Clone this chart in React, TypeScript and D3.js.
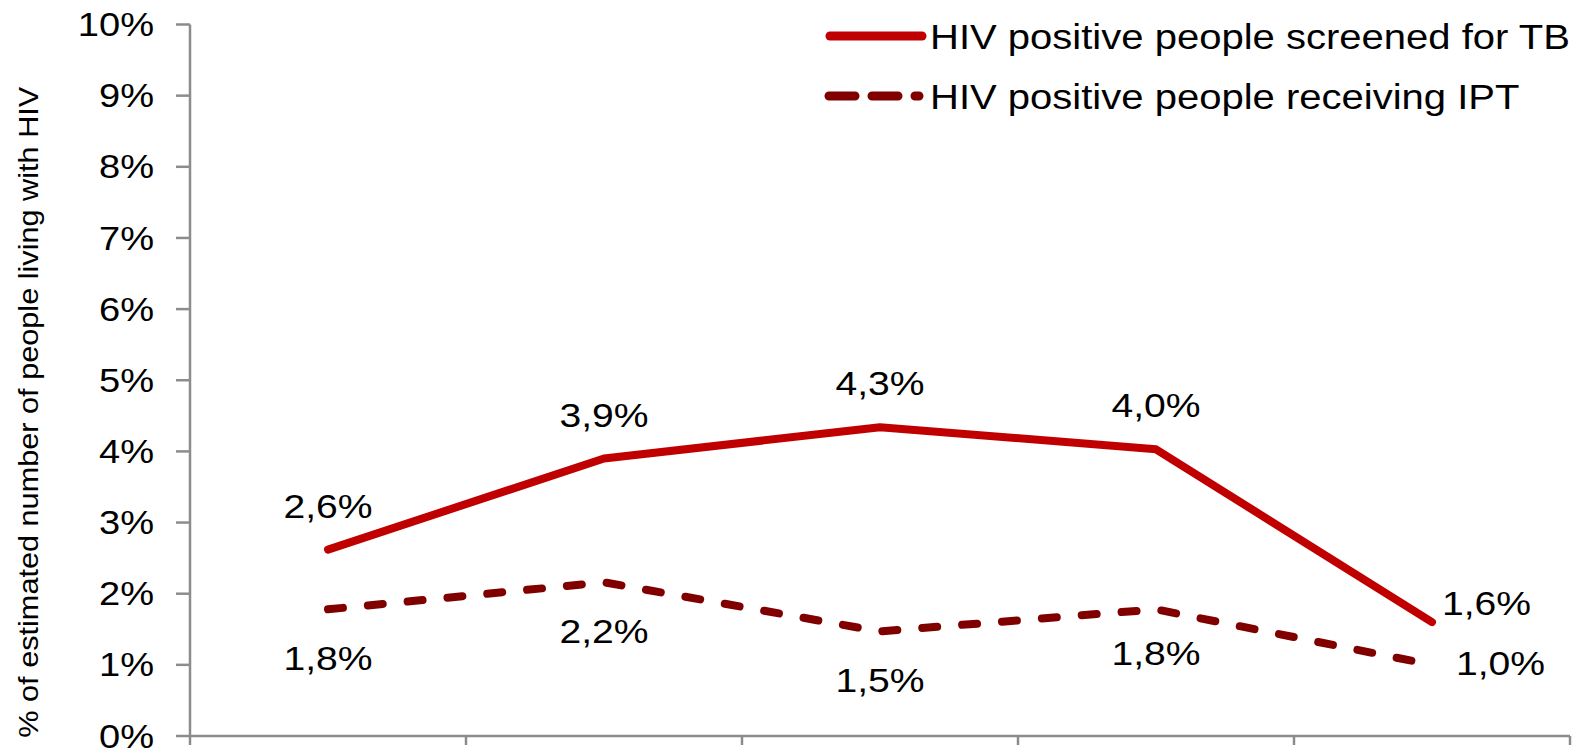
import React from "react";
import * as d3 from "d3";

const categories = ["A", "B", "C", "D", "E"];
const screenedTB = [2.62, 3.9, 4.34, 4.03, 1.6];
const receivingIPT = [1.78, 2.16, 1.47, 1.78, 1.0];
const seriesNames = ["HIV positive people screened for TB", "HIV positive people receiving IPT"];
const yTicks = [0, 1, 2, 3, 4, 5, 6, 7, 8, 9, 10];
const yTitle = "% of estimated number of people living with HIV";

const W = 1572;
const H = 752;
const FONT = "'Liberation Sans', Arial, sans-serif";
const SX = 1.15;

function T({ x, y, anchor = "start", size = 34, sx = SX, dy = "0", children }: any) {
  return (
    <g transform={`translate(${x},${y}) scale(${sx},1)`}>
      <text x={0} y={0} dy={dy} textAnchor={anchor} fontSize={size} fill="#000">
        {children}
      </text>
    </g>
  );
}

export default function App() {
  const x = d3.scaleBand<string>().domain(categories).range([190, 1570]);
  const y = d3.scaleLinear().domain([0, 10]).range([736, 24.5]);
  const cx = (c: string) => (x(c) as number) + x.bandwidth() / 2;
  const line = d3
    .line<number>()
    .x((_, i) => cx(categories[i]))
    .y((d) => y(d));
  const fmt = (v: number) => d3.format(".1f")(v).replace(".", ",") + "%";
  const boundaries = [...categories.map((c) => x(c) as number), 1570];
  const last = categories.length - 1;

  return (
    <svg width={W} height={H} style={{ position: "absolute", left: 0, top: 0, background: "#fff" }} fontFamily={FONT}>
      {/* y axis */}
      <line x1={190} x2={190} y1={y(10)} y2={y(0)} stroke="#8c8c8c" strokeWidth={2.5} />
      {yTicks.map((t) => (
        <g key={t}>
          <line x1={176} x2={190} y1={y(t)} y2={y(t)} stroke="#8c8c8c" strokeWidth={2.5} />
          <T x={154} y={y(t)} dy="0.34em" anchor="end" sx={1.12}>
            {t}%
          </T>
        </g>
      ))}
      {/* x axis */}
      <line x1={190} x2={1570} y1={y(0)} y2={y(0)} stroke="#8c8c8c" strokeWidth={2.5} />
      {boundaries.map((b, i) => (
        <line key={i} x1={b} x2={b} y1={y(0)} y2={y(0) + 9} stroke="#8c8c8c" strokeWidth={2.5} />
      ))}
      {/* y title */}
      <g transform={`translate(38, ${(y(0) + y(10)) / 2 + 32}) rotate(-90) scale(1.095,1)`}>
        <text x={0} y={0} textAnchor="middle" fontSize={28} fill="#000">
          {yTitle}
        </text>
      </g>
      {/* series */}
      <path d={line(screenedTB) || ""} fill="none" stroke="#c00000" strokeWidth={8} strokeLinecap="round" strokeLinejoin="round" />
      <path
        d={line(receivingIPT) || ""}
        fill="none"
        stroke="#800000"
        strokeWidth={8}
        strokeLinecap="round"
        strokeLinejoin="round"
        strokeDasharray="15 25"
      />
      {/* labels */}
      {screenedTB.map((v, i) => (
        <T
          key={"s" + i}
          x={i === last ? cx(categories[i]) + 10 : cx(categories[i])}
          y={i === last ? y(v) - 19 + 12 : y(v) - 44 + 12}
          anchor={i === last ? "start" : "middle"}
        >
          {fmt(v)}
        </T>
      ))}
      {receivingIPT.map((v, i) => (
        <T
          key={"r" + i}
          x={i === last ? cx(categories[i]) + 24 : cx(categories[i])}
          y={i === last ? y(v) - 2 + 12 : y(v) + (i === 3 ? 44 : 49) + 12}
          anchor={i === last ? "start" : "middle"}
        >
          {fmt(v)}
        </T>
      ))}
      {/* legend */}
      <line x1={830} x2={922} y1={36} y2={36} stroke="#c00000" strokeWidth={9} strokeLinecap="round" />
      <line x1={829} x2={919} y1={96} y2={96} stroke="#800000" strokeWidth={9} strokeLinecap="round" strokeDasharray="26 17" />
      <T x={930} y={36} dy="0.36em" size={34.8}>
        {seriesNames[0]}
      </T>
      <T x={930} y={96} dy="0.36em" size={34.8}>
        {seriesNames[1]}
      </T>
    </svg>
  );
}
